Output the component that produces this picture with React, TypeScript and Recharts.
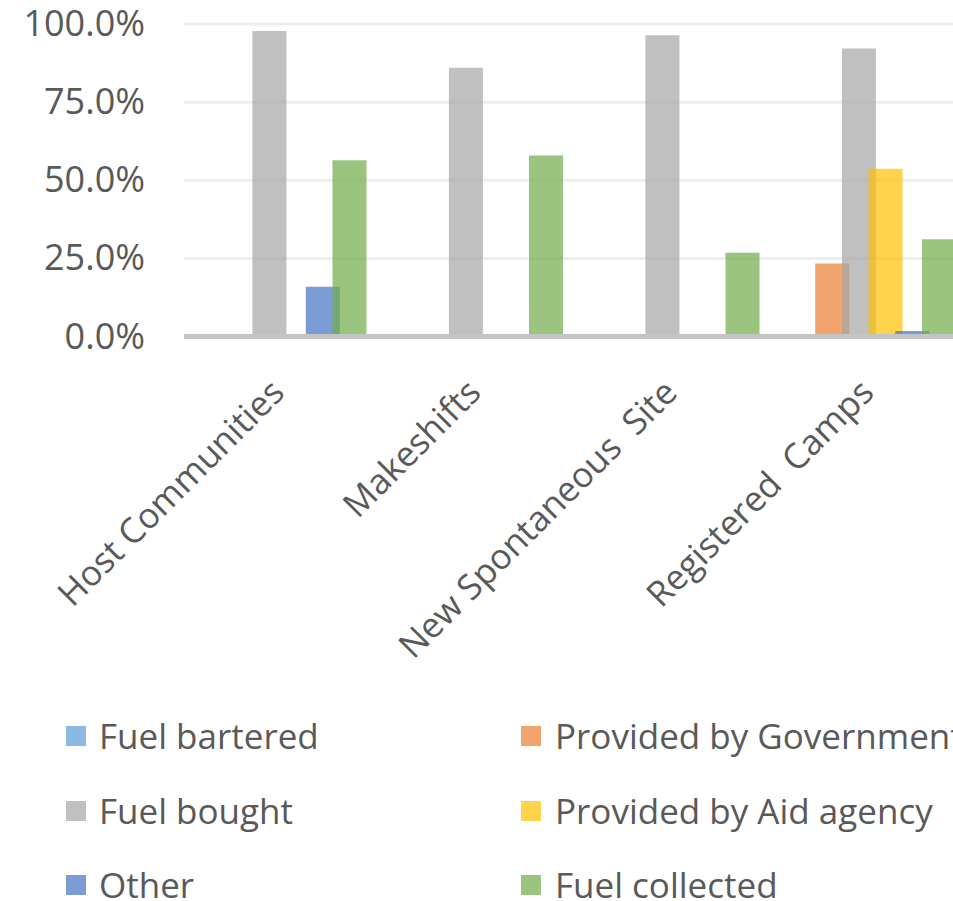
import React from 'react';
import { BarChart, Bar, XAxis, YAxis, CartesianGrid, Legend } from 'recharts';

const categories = ['Host Communities', 'Makeshifts', 'New Spontaneous  Site', 'Registered  Camps'];
const fuelBartered = [0, 0, 0, 0];
const providedByGovernment = [0, 0, 0, 0.234];
const fuelBought = [0.978, 0.86, 0.964, 0.922];
const providedByAidAgency = [0, 0, 0, 0.537];
const other = [0.159, 0, 0, 0.018];
const fuelCollected = [0.564, 0.579, 0.268, 0.311];
const yTicks = [0, 0.25, 0.5, 0.75, 1];

const series = [
  { key: 'bartered', name: 'Fuel bartered', values: fuelBartered, color: '#5B9BD5' },
  { key: 'gov', name: 'Provided by Government', values: providedByGovernment, color: '#ED7D31' },
  { key: 'bought', name: 'Fuel bought', values: fuelBought, color: '#A5A5A5' },
  { key: 'aid', name: 'Provided by Aid agency', values: providedByAidAgency, color: '#FFC000' },
  { key: 'other', name: 'Other', values: other, color: '#4472C4' },
  { key: 'collected', name: 'Fuel collected', values: fuelCollected, color: '#70AD47' },
];

const data = categories.map((c, i) => {
  const row: any = { category: c };
  series.forEach((s) => { row[s.key] = s.values[i]; });
  return row;
});

const FONT = '"Open Sans", sans-serif';
const TEXT = '#595959';

const XTick = (props: any) => {
  const { x, y, payload } = props;
  const ax = x + 4;
  const ay = y + 50;
  return (
    <text
      x={ax}
      y={ay}
      transform={`rotate(-45 ${ax} ${ay})`}
      textAnchor="end"
      fontFamily={FONT}
      fontSize={35}
      fill={TEXT}
      style={{ whiteSpace: 'pre' }}
    >
      {payload.value}
    </text>
  );
};

const YTick = (props: any) => {
  const { x, y, payload } = props;
  return (
    <text x={x} y={y} dy={12} textAnchor="end" fontFamily={FONT} fontSize={36} fill={TEXT}>
      {(payload.value * 100).toFixed(1) + '%'}
    </text>
  );
};

const LegendContent = (props: any) => {
  const payload = [...(props.payload || [])].sort(
    (a: any, b: any) =>
      series.findIndex((s) => s.name === a.value) - series.findIndex((s) => s.name === b.value)
  );
  return (
    <div style={{ position: 'relative', width: 980, height: 184 }}>
      {payload.map((p: any, i: number) => {
        const col = i % 2;
        const row = Math.floor(i / 2);
        return (
          <div
            key={p.value}
            style={{
              position: 'absolute',
              left: col === 0 ? 66 : 521,
              top: row * 74.5,
              display: 'flex',
              alignItems: 'center',
              height: 40,
              whiteSpace: 'nowrap',
            }}
          >
            <div style={{ width: 20, height: 20, background: p.color, opacity: 0.7, marginRight: col === 0 ? 13 : 14 }} />
            <span style={{ fontFamily: FONT, fontSize: 35, color: TEXT, lineHeight: '40px' }}>{p.value}</span>
          </div>
        );
      })}
    </div>
  );
};

export default function App() {
  return (
    <div style={{ position: 'absolute', left: 0, top: 0, width: 953, height: 901, overflow: 'hidden', background: '#fff' }}>
      <BarChart
        width={980}
        height={901}
        data={data}
        margin={{ top: 24, right: 10, bottom: 0, left: 0 }}
        barSize={34}
        barGap={-7.3}
      >
        <CartesianGrid vertical={false} stroke="#EEEEEE" strokeWidth={3} />
        <YAxis
          domain={[0, 1]}
          ticks={yTicks}
          width={184}
          axisLine={false}
          tickLine={false}
          tickSize={6}
          tickMargin={33}
          tick={<YTick />}
          interval={0}
        />
        {series.map((s) => (
          <Bar
            key={s.key}
            dataKey={s.key}
            name={s.name}
            fill={s.color}
            fillOpacity={0.7}
            isAnimationActive={false}
          />
        ))}
        <XAxis
          dataKey="category"
          interval={0}
          height={564.5}
          axisLine={{ stroke: '#C4C4C4', strokeWidth: 5 }}
          tickLine={false}
          tick={<XTick />}
        />
        <Legend
          layout="horizontal"
          verticalAlign="middle"
          align="center"
          itemSorter={null as any}
          wrapperStyle={{ left: 0, top: 716, width: 980, height: 184 }}
          content={<LegendContent />}
        />
      </BarChart>
    </div>
  );
}
